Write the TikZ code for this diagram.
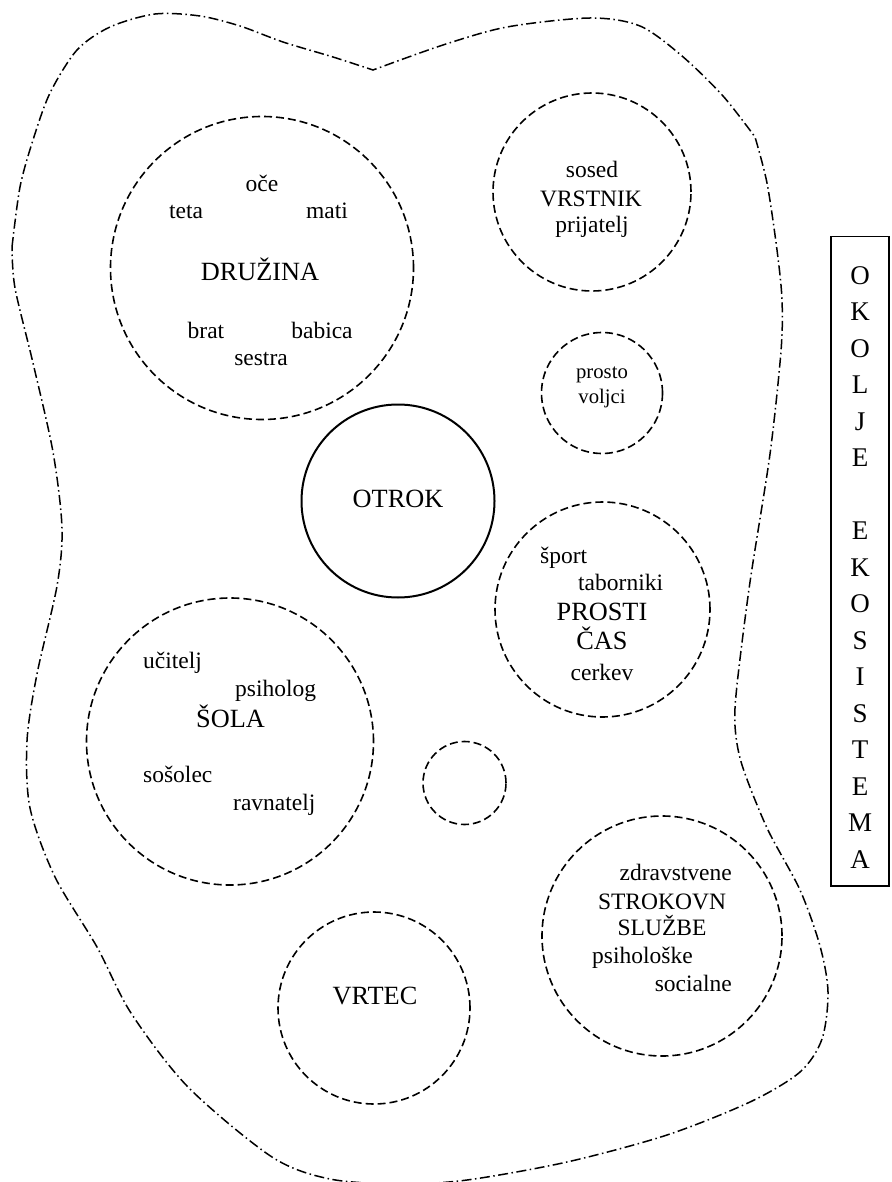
\documentclass[tikz,border=0pt]{standalone}
\usepackage{fontspec}
\setmainfont{Liberation Serif}
\begin{document}
\begin{tikzpicture}[x=1pt,y=-1pt,
  ring/.style={draw, circle, line width=1.6pt, dash pattern=on 8pt off 4pt, inner sep=0pt},
  core/.style={draw, circle, line width=2pt, inner sep=0pt},
  sm/.style={inner sep=0pt, font=\fontsize{23.5}{27}\selectfont},
  bg/.style={inner sep=0pt, font=\fontsize{26.3}{30}\selectfont},
  tn/.style={inner sep=0pt, font=\fontsize{20.7}{24}\selectfont},
  outline/.style={line width=1.5pt, dash pattern=on 10pt off 3.5pt on 1.5pt off 3.5pt},
  boxletter/.style={inner sep=0pt, anchor=base, font=\fontsize{27}{30}\selectfont},
]
\useasboundingbox (0,0) rectangle (891,1182);
\begin{scope}
\clip (0,0) rectangle (891,1182);
\draw[outline]
  plot[smooth] coordinates {(12,247) (20,187) (33,140) (50,93) (77,50) (110,27) (155,14) (200,16) (240,26) (283,42) (333,57) (373,70)}
  -- plot[smooth] coordinates {(373,70) (443,45) (507,27) (590,18) (640,26) (682,56) (723,96) (755,137)}
  -- plot[smooth] coordinates {(755,137) (767,183) (777,250) (782,300) (781,351) (770,454) (750,582) (737,685) (735,726) (742,765) (767,828) (800,890) (820,946) (828,992) (822,1039) (800,1072) (750,1102) (667,1135) (567,1162) (467,1180) (400,1184) (330,1179) (272,1157) (188,1087) (131,1013) (97,947) (55,877) (30,808) (27,741) (37,674) (57,586) (62,528) (53,452) (33,363) (15,288) (12,247)};
\end{scope}

% circles
\node[ring, minimum size=303pt] (fam) at (262,268) {};
\node[ring, minimum size=198pt] (vrs) at (592,192) {};
\node[ring, minimum size=121pt] (pro) at (602,393) {};
\node[core, minimum size=193pt] (otr) at (398,501) {};
\node[ring, minimum size=215pt] (pcas) at (602.5,609.5) {};
\node[ring, minimum size=287pt] (sola) at (230,741.5) {};
\node[ring, minimum size=83pt] (dot) at (464.5,783) {};
\node[ring, minimum size=240pt] (strok) at (662,936) {};
\node[ring, minimum size=192pt] (vrtec) at (374,1008) {};

% DRUZINA
\node[sm, anchor=base] (oce) at (262,192) {oče};
\node[sm, anchor=base] (teta) at (186,219) {teta};
\node[sm, anchor=base] (mati) at (327,219) {mati};
\node[bg, anchor=base] (druz) at (260,280) {DRUŽINA};
\node[sm, anchor=base] (brat) at (206,338) {brat};
\node[sm, anchor=base] (babica) at (322,338) {babica};
\node[sm, anchor=base] (sestra) at (261,365) {sestra};

% VRSTNIK
\node[sm, anchor=base] (sosed) at (592,178) {sosed};
\node[sm, anchor=base] (vrstnik) at (591,207) {VRSTNIK};
\node[sm, anchor=base] (prij) at (592,233) {prijatelj};

% prostovoljci
\node[tn, anchor=base] (prosto) at (602,378) {prosto};
\node[tn, anchor=base] (voljci) at (602,403) {voljci};

% OTROK
\node[bg, anchor=base] (otrok) at (398,507) {OTROK};

% PROSTI CAS
\node[sm, anchor=base west] (sport) at (540,563) {šport};
\node[sm, anchor=base west] (tabor) at (578,590) {taborniki};
\node[bg, anchor=base] (prosti) at (602,620) {PROSTI};
\node[bg, anchor=base] (cas) at (602,649) {ČAS};
\node[sm, anchor=base] (cerkev) at (602,680) {cerkev};

% SOLA
\node[sm, anchor=base west] (ucitelj) at (143,668) {učitelj};
\node[sm, anchor=base west] (psiholog) at (235,696) {psiholog};
\node[bg, anchor=base west] (solat) at (196,727) {ŠOLA};
\node[sm, anchor=base west] (sosolec) at (143,782) {sošolec};
\node[sm, anchor=base west] (ravn) at (233,810) {ravnatelj};

% STROKOVNE SLUZBE
\node[sm, anchor=base east] (zdr) at (732,880) {zdravstvene};
\node[sm, anchor=base] (strokt) at (662,909) {STROKOVN};
\node[sm, anchor=base] (sluzbe) at (662,935) {SLUŽBE};
\node[sm, anchor=base west] (psih) at (592,963) {psihološke};
\node[sm, anchor=base east] (soc) at (732,991) {socialne};

% VRTEC
\node[bg, anchor=base] (vrtect) at (375,1004) {VRTEC};

% OKOLJE EKOSISTEMA box
\node[draw, line width=1.5pt, minimum width=58pt, minimum height=649pt, anchor=north west, inner sep=0pt] (box) at (830,236) {};
\foreach \c/\i in {O/0,K/1,O/2,L/3,J/4,E/5,E/7,K/8,O/9,S/10,I/11,S/12,T/13,E/14,M/15,A/16}
  \node[boxletter] (ok\i) at (860,{284+36.5*\i}) {\c};
\end{tikzpicture}
\end{document}
